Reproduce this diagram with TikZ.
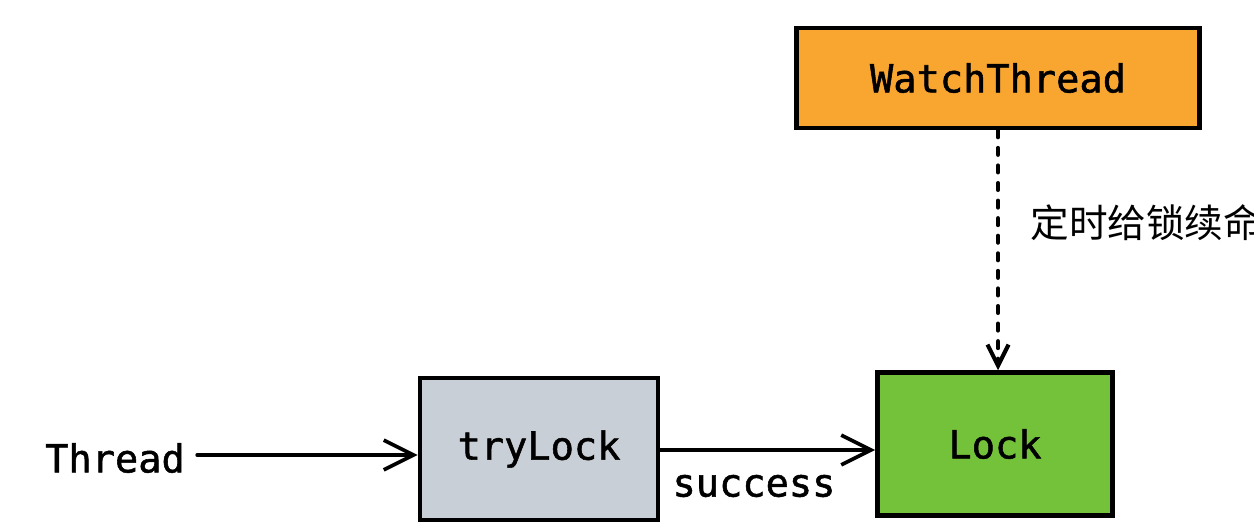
\documentclass[tikz,border=0pt]{standalone}
\usepackage{fontspec}
\newfontfamily\codefont[FakeBold=1.4]{DejaVu Sans Mono}
\newfontfamily\cjk{Noto Sans CJK SC}
\usetikzlibrary{arrows.meta}
\definecolor{watchorange}{HTML}{F9A631}
\definecolor{trygray}{HTML}{C9CFD6}
\definecolor{lockgreen}{HTML}{74C13A}
\tikzset{
  box/.style={draw,line width=2.6pt,inner sep=0pt,font=\codefont\fontsize{22pt}{26pt}\selectfont},
  word/.style={inner sep=0pt,font=\codefont\fontsize{22pt}{26pt}\selectfont},
  flow/.style={line width=2.1pt,line cap=round,-{Straight Barb[length=17pt,width=17pt,line width=2.1pt]}},
  renew/.style={line width=2.3pt,line cap=round,dash pattern=on 4pt off 6pt,-{Straight Barb[length=12pt,width=12pt,line width=2.3pt]}}
}
\begin{document}
\begin{tikzpicture}[x=0.02cm,y=-0.02cm]
  \useasboundingbox (0,0) rectangle (1254,528);
  \node[box,fill=watchorange,minimum width=403*0.02cm,minimum height=100*0.02cm](watch) at (998,78){WatchThread};
  \node[box,fill=trygray,minimum width=238*0.02cm,minimum height=142*0.02cm](try) at (539,449){tryLock};
  \node[box,fill=lockgreen,minimum width=235*0.02cm,minimum height=143*0.02cm](lock) at (995,444){Lock};
  \node[word](thread) at (115,458){Thread};
  \node[word](success) at (754,486){success};
  \node[anchor=west,inner sep=0pt,font=\cjk\fontsize{22pt}{25pt}\selectfont](timer) at (1030,223){定时给锁续命};
  % connectors
  \draw[flow] (thread.east) ++(12,-3) coordinate (start) (start) -- (try.west |- start);
  \draw[flow] (try.east |- 0,450) -- (lock.west |- 0,450);
  \draw[renew] (watch.south) -- (lock.north -| watch.south);
\end{tikzpicture}
\end{document}
